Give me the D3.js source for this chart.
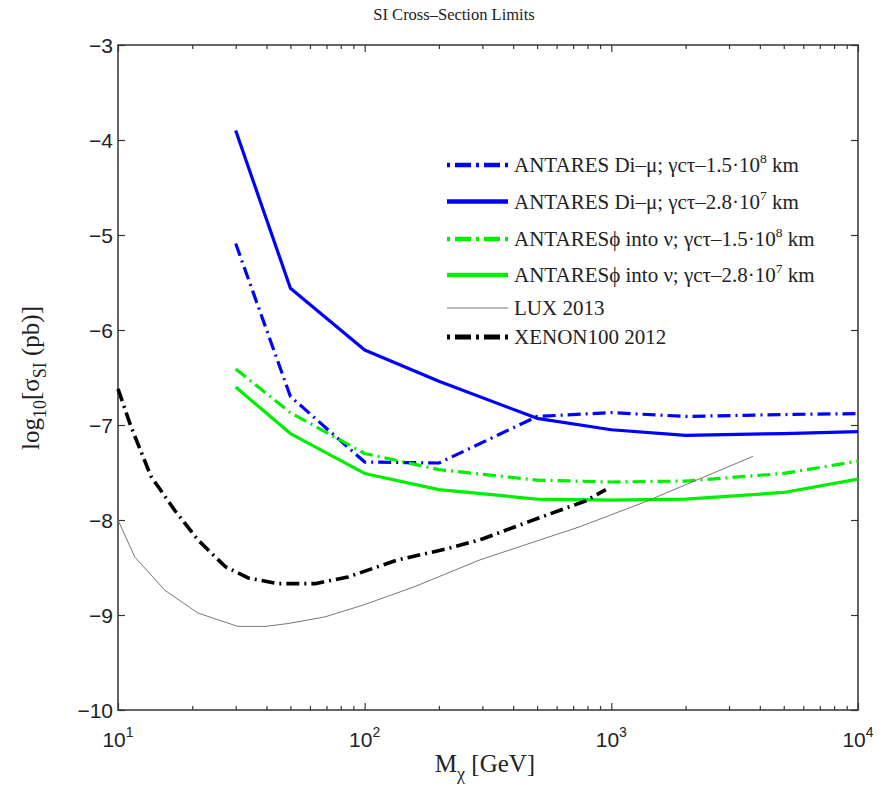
<!DOCTYPE html>
<html>
<head>
<meta charset="utf-8">
<script src="https://cdn.jsdelivr.net/npm/d3@7/dist/d3.min.js"></script>
<style>
  body { margin: 0; background: #fff; }
  .serif { font-family: "Liberation Serif", "Times New Roman", serif; }
  .sans { font-family: "Liberation Sans", Arial, sans-serif; }
</style>
</head>
<body>
<svg id="chart" width="889" height="794"></svg>
<script>
// ANTARES limits, sampled on a common mass grid (GeV) -> log10(sigma_SI / pb)
const antaresMass = [30, 50, 100, 200, 500, 1000, 2000, 5000, 10000];
const diMuLong   = [-5.09, -6.70, -7.39, -7.40, -6.91, -6.87, -6.91, -6.89, -6.88];
const diMuShort  = [-3.90, -5.56, -6.21, -6.54, -6.93, -7.05, -7.11, -7.09, -7.07];
const phiNuLong  = [-6.41, -6.87, -7.30, -7.47, -7.58, -7.60, -7.59, -7.51, -7.38];
const phiNuShort = [-6.60, -7.09, -7.51, -7.68, -7.78, -7.79, -7.78, -7.71, -7.57];

// Direct-detection limits
const luxMass  = [10, 11.7, 15.5, 21.1, 30.6, 39.5, 48.9, 69, 100, 160, 293, 747, 1368, 3750];
const luxSigma = [-8.0, -8.39, -8.74, -8.98, -9.12, -9.12, -9.09, -9.02, -8.89, -8.70, -8.42, -8.07, -7.81, -7.33];
const xenonMass  = [10, 11.3, 13.6, 17, 21.1, 27.2, 33.7, 44.6, 63, 85.5, 136, 218, 300, 460, 785, 950];
const xenonSigma = [-6.62, -7.02, -7.54, -7.90, -8.21, -8.49, -8.61, -8.67, -8.67, -8.60, -8.42, -8.30, -8.20, -8.02, -7.80, -7.68];

// Axis ticks
const xDecadeExponents = [1, 2, 3, 4];
const yTickValues = [-10, -9, -8, -7, -6, -5, -4, -3];

const W = 889, H = 794;
const margin = { top: 45, right: 31, bottom: 84, left: 118 };
const svg = d3.select("#chart");

const x = d3.scaleLog().domain([10, 1e4]).range([margin.left, W - margin.right]);
const y = d3.scaleLinear().domain([-10, -3]).range([H - margin.bottom, margin.top]);

const decades = xDecadeExponents.map(e => Math.pow(10, e));
const minorX = x.ticks().filter(v => !decades.some(d => Math.abs(d - v) < 1e-9));

const axisColor = "#333";

function styleAxis(g) {
  g.select(".domain").remove();
  g.selectAll(".tick line").attr("stroke", axisColor).attr("stroke-width", 1.2);
  g.selectAll(".tick text").remove();
}

// Ticks on all four sides, pointing inward
svg.append("g").attr("transform", `translate(0,${y.range()[0]})`)
  .call(d3.axisBottom(x).tickValues(decades).tickSize(-7)).call(styleAxis);
svg.append("g").attr("transform", `translate(0,${y.range()[0]})`)
  .call(d3.axisBottom(x).tickValues(minorX).tickSize(-4)).call(styleAxis);
svg.append("g").attr("transform", `translate(0,${y.range()[1]})`)
  .call(d3.axisTop(x).tickValues(decades).tickSize(-7)).call(styleAxis);
svg.append("g").attr("transform", `translate(0,${y.range()[1]})`)
  .call(d3.axisTop(x).tickValues(minorX).tickSize(-4)).call(styleAxis);
svg.append("g").attr("transform", `translate(${x.range()[0]},0)`)
  .call(d3.axisLeft(y).tickValues(yTickValues).tickSize(-7)).call(styleAxis);
svg.append("g").attr("transform", `translate(${x.range()[1]},0)`)
  .call(d3.axisRight(y).tickValues(yTickValues).tickSize(-7)).call(styleAxis);

// Plot box
svg.append("rect")
  .attr("x", x.range()[0]).attr("y", y.range()[1])
  .attr("width", x.range()[1] - x.range()[0])
  .attr("height", y.range()[0] - y.range()[1])
  .attr("fill", "none").attr("stroke", axisColor).attr("stroke-width", 1.5);

// Y tick labels
svg.append("g").selectAll("text").data(yTickValues).join("text")
  .attr("class", "sans")
  .attr("x", x.range()[0] - 5)
  .attr("y", d => y(d))
  .attr("dy", "0.36em")
  .attr("text-anchor", "end")
  .attr("font-size", 21)
  .attr("fill", "#222")
  .text(d => String(d).replace("-", "\u2212"));

// X tick labels: 10^n
const xl = svg.append("g").selectAll("text").data(xDecadeExponents).join("text")
  .attr("class", "sans")
  .attr("x", d => x(Math.pow(10, d)))
  .attr("y", 747)
  .attr("text-anchor", "middle")
  .attr("font-size", 21)
  .attr("fill", "#222");
xl.append("tspan").text("10");
xl.append("tspan").attr("dy", -10).attr("font-size", 14).text(d => d);

// Title
svg.append("text").attr("class", "serif")
  .attr("x", 454).attr("y", 20)
  .attr("text-anchor", "middle").attr("font-size", 16.5).attr("fill", "#222")
  .text("SI Cross\u2013Section Limits");

// X axis label
const xLab = svg.append("text").attr("class", "serif")
  .attr("x", 485).attr("y", 772)
  .attr("text-anchor", "middle").attr("font-size", 25).attr("fill", "#222");
xLab.append("tspan").text("M");
xLab.append("tspan").attr("dy", 8).attr("font-size", 18).text("\u03C7");
xLab.append("tspan").attr("dy", -8).text(" [GeV]");

// Y axis label
const yLab = svg.append("text").attr("class", "serif")
  .attr("transform", "translate(39,378) rotate(-90)")
  .attr("text-anchor", "middle").attr("font-size", 25).attr("fill", "#222");
yLab.append("tspan").text("log");
yLab.append("tspan").attr("dy", 7).attr("font-size", 18).text("10");
yLab.append("tspan").attr("dy", -7).text("[\u03C3");
yLab.append("tspan").attr("dy", 7).attr("font-size", 18).text("SI");
yLab.append("tspan").attr("dy", -7).text(" (pb)]");

// Series definitions
const dashDot = "13,5,2,5";
const series = [
  { mass: antaresMass, values: diMuLong,   color: "#0000ff", width: 3.2, dash: dashDot,
    label: [["ANTARES Di\u2013\u03BC; \u03B3c\u03C4\u20131.5\u00B710"], ["8", true], [" km"]] },
  { mass: antaresMass, values: diMuShort,  color: "#0000ff", width: 3.2, dash: null,
    label: [["ANTARES Di\u2013\u03BC; \u03B3c\u03C4\u20132.8\u00B710"], ["7", true], [" km"]] },
  { mass: antaresMass, values: phiNuLong,  color: "#00ee00", width: 3.2, dash: dashDot,
    label: [["ANTARES\u03D5 into \u03BD; \u03B3c\u03C4\u20131.5\u00B710"], ["8", true], [" km"]] },
  { mass: antaresMass, values: phiNuShort, color: "#00ee00", width: 3.2, dash: null,
    label: [["ANTARES\u03D5 into \u03BD; \u03B3c\u03C4\u20132.8\u00B710"], ["7", true], [" km"]] },
  { mass: luxMass, values: luxSigma, color: "#777", width: 1, dash: null,
    label: [["LUX 2013"]] },
  { mass: xenonMass, values: xenonSigma, color: "#000", width: 3.6, dash: dashDot,
    label: [["XENON100 2012"]] }
];

const line = d3.line().x(d => x(d[0])).y(d => y(d[1]));
const plot = svg.append("g");
series.forEach(s => {
  const pts = s.mass.map((m, i) => [m, s.values[i]]);
  plot.append("path")
    .attr("d", line(pts))
    .attr("fill", "none")
    .attr("stroke", s.color)
    .attr("stroke-width", s.width)
    .attr("stroke-linejoin", "round")
    .attr("stroke-dasharray", s.dash);
});

// Legend
const legendRows = [165, 201.5, 239, 275, 308, 337];
const legend = svg.append("g");
series.forEach((s, i) => {
  const ly = legendRows[i];
  legend.append("line")
    .attr("x1", 447).attr("x2", 508).attr("y1", ly).attr("y2", ly)
    .attr("stroke", s.color)
    .attr("stroke-width", s.width === 1 ? 1.2 : s.width + 1.5)
    .attr("stroke-dasharray", s.dash ? "3,5,16,5" : null);
  const t = legend.append("text").attr("class", "serif")
    .attr("x", 514).attr("y", ly + 7)
    .attr("font-size", 21).attr("fill", "#222");
  s.label.forEach(([str, sup]) => {
    if (sup) t.append("tspan").attr("dy", -9).attr("font-size", 13.5).text(str);
    else if (t.selectAll("tspan").size() > 0) t.append("tspan").attr("dy", 9).text(str);
    else t.append("tspan").text(str);
  });
});
</script>
</body>
</html>
